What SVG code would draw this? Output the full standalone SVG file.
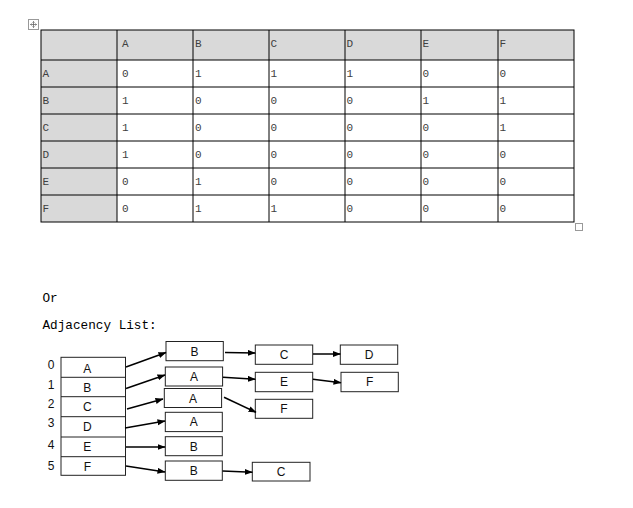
<svg xmlns="http://www.w3.org/2000/svg" width="633" height="508" viewBox="0 0 633 508">
<style>
.hd{fill:#d9d9d9;stroke:none}
.grid{stroke:#000;stroke-width:1;fill:none}
.tt{font-family:"Liberation Mono","Courier New",monospace;font-size:11px;fill:#404040}
.lbl{font-family:"Liberation Mono","Courier New",monospace;font-size:12.7px;fill:#000}
.box{fill:#fff;stroke:#222;stroke-width:1}
.bt{font-family:"Liberation Sans",Arial,sans-serif;font-size:12px;fill:#111;text-anchor:middle}
.idx{font-family:"Liberation Sans",Arial,sans-serif;font-size:12px;fill:#111;text-anchor:middle}
.ar{stroke:#000;stroke-width:1.5;fill:none;marker-end:url(#ah)}
</style>
<defs>
<marker id="ah" markerUnits="userSpaceOnUse" markerWidth="9" markerHeight="7" refX="7.5" refY="3" orient="auto">
<path d="M0,0 L8,3 L0,6 z" fill="#000"/>
</marker>
</defs>
<rect width="633" height="508" fill="#fff"/>

<g id="move-icon">
<rect x="28.5" y="19.5" width="10" height="10" fill="#fff" stroke="#999"/>
<path d="M33.5,21.5 V27.5 M30.5,24.5 H36.5 M32.5,22.5 L33.5,21.5 L34.5,22.5 M32.5,26.5 L33.5,27.5 L34.5,26.5 M31.5,23.5 L30.5,24.5 L31.5,25.5 M35.5,23.5 L36.5,24.5 L35.5,25.5" stroke="#666" stroke-width="0.8" fill="none"/>
</g>

<g id="matrix">
<rect class="hd" x="41" y="30" width="533" height="30"/>
<rect class="hd" x="41" y="60" width="76" height="162"/>
<rect class="grid" x="41" y="30" width="533" height="192"/>
<path class="grid" d="M117,30V222 M193,30V222 M269,30V222 M345,30V222 M421,30V222 M498,30V222 M41,60H574 M41,87H574 M41,114H574 M41,141H574 M41,168H574 M41,195H574"/>
<g class="tt">
<text x="122" y="47">A</text><text x="195" y="47">B</text><text x="270.5" y="47">C</text><text x="346.5" y="47">D</text><text x="422.5" y="47">E</text><text x="499.5" y="47">F</text>
<text x="42.5" y="77">A</text><text x="122" y="77">0</text><text x="195" y="77">1</text><text x="270.5" y="77">1</text><text x="346.5" y="77">1</text><text x="422.5" y="77">0</text><text x="499.5" y="77">0</text>
<text x="42.5" y="104">B</text><text x="122" y="104">1</text><text x="195" y="104">0</text><text x="270.5" y="104">0</text><text x="346.5" y="104">0</text><text x="422.5" y="104">1</text><text x="499.5" y="104">1</text>
<text x="42.5" y="131">C</text><text x="122" y="131">1</text><text x="195" y="131">0</text><text x="270.5" y="131">0</text><text x="346.5" y="131">0</text><text x="422.5" y="131">0</text><text x="499.5" y="131">1</text>
<text x="42.5" y="158">D</text><text x="122" y="158">1</text><text x="195" y="158">0</text><text x="270.5" y="158">0</text><text x="346.5" y="158">0</text><text x="422.5" y="158">0</text><text x="499.5" y="158">0</text>
<text x="42.5" y="185">E</text><text x="122" y="185">0</text><text x="195" y="185">1</text><text x="270.5" y="185">0</text><text x="346.5" y="185">0</text><text x="422.5" y="185">0</text><text x="499.5" y="185">0</text>
<text x="42.5" y="212">F</text><text x="122" y="212">0</text><text x="195" y="212">1</text><text x="270.5" y="212">1</text><text x="346.5" y="212">0</text><text x="422.5" y="212">0</text><text x="499.5" y="212">0</text>
</g>
</g>

<g id="resize-handle">
<rect x="575.5" y="223.5" width="7" height="7" fill="#fff" stroke="#999"/>
</g>

<g id="captions">
<text class="lbl" x="42.5" y="301.5">Or</text>
<text class="lbl" x="42.5" y="329.3">Adjacency List:</text>
</g>

<g id="array">
<rect class="box" x="61" y="357.3" width="64.5" height="118"/>
<path d="M61,377.3H125.5 M61,396.7H125.5 M61,416.7H125.5 M61,437H125.5 M61,456.7H125.5" stroke="#222" stroke-width="1" fill="none"/>
<text class="bt" x="87.3" y="372.6">A</text>
<text class="bt" x="87.3" y="392">B</text>
<text class="bt" x="87.3" y="411">C</text>
<text class="bt" x="87.3" y="431">D</text>
<text class="bt" x="87.3" y="451">E</text>
<text class="bt" x="87.3" y="471">F</text>
<text class="idx" x="51" y="369.3">0</text>
<text class="idx" x="51" y="389.3">1</text>
<text class="idx" x="51" y="407.6">2</text>
<text class="idx" x="51" y="427">3</text>
<text class="idx" x="51" y="448.6">4</text>
<text class="idx" x="51" y="470.3">5</text>
</g>

<g id="n-B0"><rect class="box" x="166" y="341.5" width="57.3" height="19.2"/><text class="bt" x="194.6" y="355.6">B</text></g>
<g id="n-A1"><rect class="box" x="165.3" y="367" width="57.3" height="19"/><text class="bt" x="194" y="381">A</text></g>
<g id="n-A2"><rect class="box" x="164.3" y="388.5" width="57.3" height="19"/><text class="bt" x="193" y="402.5">A</text></g>
<g id="n-A3"><rect class="box" x="165.3" y="412.3" width="57" height="19.3"/><text class="bt" x="193.8" y="426.4">A</text></g>
<g id="n-B4"><rect class="box" x="165.3" y="436.7" width="57" height="19"/><text class="bt" x="193.8" y="450.7">B</text></g>
<g id="n-B5"><rect class="box" x="165.3" y="461" width="57" height="19.3"/><text class="bt" x="193.8" y="475">B</text></g>
<g id="n-C0"><rect class="box" x="255.3" y="345" width="57.4" height="19.3"/><text class="bt" x="284" y="359">C</text></g>
<g id="n-D0"><rect class="box" x="340.3" y="345" width="57.4" height="19.3"/><text class="bt" x="369" y="359">D</text></g>
<g id="n-E1"><rect class="box" x="255.3" y="372.3" width="57.4" height="19.4"/><text class="bt" x="284" y="386.4">E</text></g>
<g id="n-F1"><rect class="box" x="341" y="372.3" width="57.3" height="19.4"/><text class="bt" x="369.7" y="386.4">F</text></g>
<g id="n-F2"><rect class="box" x="255.3" y="399.3" width="57.4" height="19"/><text class="bt" x="284" y="413.2">F</text></g>
<g id="n-C5"><rect class="box" x="252.3" y="462.3" width="57.7" height="18.7"/><text class="bt" x="281" y="476">C</text></g>

<g id="connectors">
<line class="ar" x1="126" y1="367" x2="166" y2="352.5"/>
<line class="ar" x1="126" y1="388.5" x2="165" y2="375"/>
<line class="ar" x1="127" y1="409" x2="163" y2="399"/>
<line class="ar" x1="125" y1="428" x2="165" y2="421"/>
<line class="ar" x1="126" y1="447" x2="165" y2="447"/>
<line class="ar" x1="126" y1="466" x2="165" y2="472"/>
<line class="ar" x1="225" y1="352.5" x2="255.3" y2="353"/>
<line class="ar" x1="313" y1="354" x2="340.3" y2="354"/>
<line class="ar" x1="223" y1="377.3" x2="255.3" y2="379.3"/>
<line class="ar" x1="313" y1="379.3" x2="341" y2="382.7"/>
<line class="ar" x1="224" y1="397.3" x2="256" y2="412.3"/>
<line class="ar" x1="222.5" y1="471" x2="252.3" y2="472.3"/>
</g>
</svg>
